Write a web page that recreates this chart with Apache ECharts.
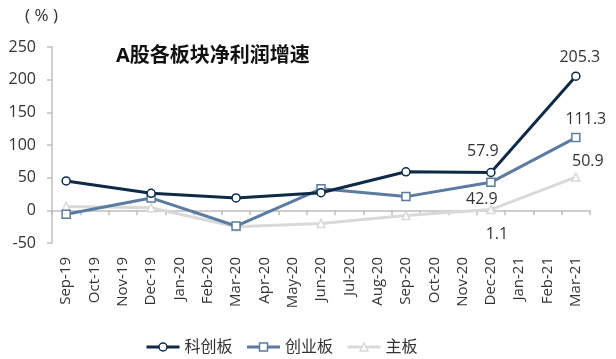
<!DOCTYPE html>
<html><head><meta charset="utf-8">
<script src="https://cdn.jsdelivr.net/npm/echarts@6/dist/echarts.min.js"></script>
<style>html,body{margin:0;padding:0;background:#fff}#c{width:616px;height:359px}</style>
</head><body><div id="c"></div>
<script>
var categories = ['Sep-19','Oct-19','Nov-19','Dec-19','Jan-20','Feb-20','Mar-20','Apr-20','May-20','Jun-20','Jul-20','Aug-20','Sep-20','Oct-20','Nov-20','Dec-20','Jan-21','Feb-21','Mar-21'];
var kcb = [45,null,null,26,null,null,19,null,null,27,null,null,59,null,null,57.9,null,null,205.3];
var cyb = [-6,null,null,19,null,null,-24,null,null,33,null,null,21,null,null,42.9,null,null,111.3];
var zb  = [6,null,null,4,null,null,-25,null,null,-20,null,null,-8,null,null,1.1,null,null,50.9];
var names = ['科创板','创业板','主板'];
var yTicks = [-50,0,50,100,150,200,250];
var labelIdx = 15, lastIdx = 18;
var FONT = '"Open Sans","Noto Sans CJK SC",sans-serif';
var labelCfg = [
  [{position:'top', offset:[-8,-3]}, {position:'top', offset:[4,-1]}],
  [{position:'bottom', offset:[-9,-1]}, {position:'top', offset:[10,0]}],
  [{position:'bottom', offset:[6,7]}, {position:'top', offset:[12,2]}]
];
function mkData(arr, k) {
  return arr.map(function(v,i){
    if (v === null) return null;
    if (i === labelIdx || i === lastIdx) {
      var c = labelCfg[k][i === labelIdx ? 0 : 1];
      return {value:v, label:{show:true, position:c.position, offset:c.offset}};
    }
    return v;
  });
}
var colors = ['#0e2a47','#5b7ba0','#d9d9d9'];
var symbols = ['circle','rect','triangle'];
var series = names.map(function(n,k){
  return {
    name:n, type:'line', data:mkData([kcb,cyb,zb][k], k), connectNulls:true,
    symbol:symbols[k], symbolSize:8, showAllSymbol:true,
    itemStyle:{color:'#fff', borderColor:colors[k], borderWidth:1.5},
    lineStyle:{color:colors[k], width:3},
    label:{show:false, color:'#333', fontSize:16, fontFamily:FONT},
    z: 3-k
  };
});
var chart = echarts.init(document.getElementById('c'), null, {renderer:'canvas'});
chart.setOption({
  animation:false,
  grid:{left:52, right:26, top:47, bottom:116},
  title:[
    {text:'A股各板块净利润增速', left:111, top:41, textStyle:{fontSize:20, fontWeight:'bold', color:'#111', fontFamily:FONT}},
    {text:'( % )', left:20, top:3, textStyle:{fontSize:17, fontWeight:'normal', color:'#333', fontFamily:FONT}}
  ],
  legend:{bottom:4, left:145, padding:0, itemWidth:33, itemHeight:10, itemGap:13,
    textStyle:{fontSize:16, color:'#333', fontFamily:FONT},
    data:names.map(function(n,k){return {name:n, itemStyle:{color:'#fff', borderColor:colors[k], borderWidth:1.5}, lineStyle:{color:colors[k], width:3}};})},
  xAxis:[
    {type:'category', data:categories, boundaryGap:true,
     axisLine:{show:false, onZero:false}, axisTick:{show:false},
     axisLabel:{rotate:90, interval:0, fontSize:15, color:'#333', margin:14, fontFamily:FONT}},
    {type:'category', data:categories, boundaryGap:true, position:'bottom',
     axisLine:{show:true, onZero:true, lineStyle:{color:'#bfbfbf', width:1.5}},
     axisTick:{show:true, length:5, interval:0, lineStyle:{color:'#bfbfbf', width:1.5}},
     axisLabel:{show:false}}
  ],
  yAxis:{type:'value', min:yTicks[0], max:yTicks[yTicks.length-1], interval:50,
    axisLine:{show:true, lineStyle:{color:'#bfbfbf', width:1.5}},
    axisTick:{show:true, length:5, lineStyle:{color:'#bfbfbf', width:1.5}},
    splitLine:{show:false},
    axisLabel:{fontSize:16, color:'#333', margin:16, fontFamily:FONT}},
  series:series
});
</script></body></html>
